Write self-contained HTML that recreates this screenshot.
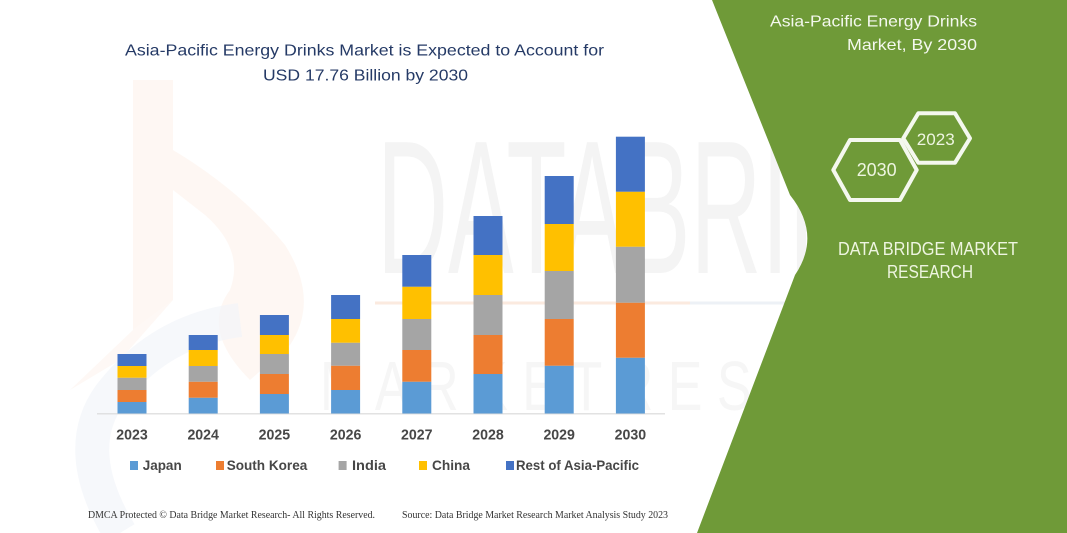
<!DOCTYPE html>
<html>
<head>
<meta charset="utf-8">
<style>
html,body{margin:0;padding:0;background:#fff;}
svg{display:block;}
</style>
</head>
<body>
<svg width="1067" height="533" viewBox="0 0 1067 533" xmlns="http://www.w3.org/2000/svg">
  <rect x="0" y="0" width="1067" height="533" fill="#ffffff"/>

  <!-- faint watermark logo -->
  <g opacity="0.45">
    <path d="M133,80 L173,80 L173,150 Q240,190 285,245 Q320,300 290,345 L250,380 Q200,330 230,290 Q245,250 205,215 L173,190 L173,300 L133,330 Z" fill="#fbe3d3" opacity="0.6"/>
    <path d="M133,330 L173,300 L120,360 L70,390 Z" fill="#fbe3d3" opacity="0.5"/>
    <path d="M120,533 Q70,450 110,395 Q160,330 240,320" fill="none" stroke="#dfe6f1" stroke-width="34" opacity="0.6"/>
  </g>
  <!-- faint DATABRIDGE watermark -->
  <text x="377" y="273" font-family="Liberation Sans, sans-serif" font-size="190" fill="#f4f4f4" textLength="625" lengthAdjust="spacingAndGlyphs">DATABRIDGE</text>
  <line x1="375" y1="303" x2="690" y2="303" stroke="#fbeadf" stroke-width="3"/>
  <line x1="690" y1="303" x2="800" y2="303" stroke="#edf1f6" stroke-width="3"/>
  <text x="320" y="410" font-family="Liberation Sans, sans-serif" font-size="70" fill="#f6f6f6" textLength="680" lengthAdjust="spacingAndGlyphs">M A R K E T  R E S E A R C H</text>

  <!-- green panel -->
  <path d="M712,0 L790,195 Q822,235 795,275 L697,533 L1067,533 L1067,0 Z" fill="#6f9a38"/>

  <!-- title -->
  <g font-family="Liberation Sans, sans-serif" font-size="16" fill="#253a66">
    <text x="125" y="55.7" textLength="479" lengthAdjust="spacingAndGlyphs">Asia-Pacific Energy Drinks Market is Expected to Account for</text>
    <text x="263" y="80.5" textLength="205" lengthAdjust="spacingAndGlyphs">USD 17.76 Billion by 2030</text>
  </g>

  <!-- axis line -->
  <line x1="97" y1="413.8" x2="665" y2="413.8" stroke="#d9d9d9" stroke-width="1.2"/>

  <!-- bars: Japan, South Korea, India, China, Rest -->
  <g>
    <!-- 2023 -->
    <rect x="117.5" y="402" width="29" height="11.5" fill="#5b9bd5"/>
    <rect x="117.5" y="390" width="29" height="12" fill="#ed7d31"/>
    <rect x="117.5" y="377.7" width="29" height="12.3" fill="#a5a5a5"/>
    <rect x="117.5" y="366" width="29" height="11.7" fill="#ffc000"/>
    <rect x="117.5" y="354" width="29" height="12" fill="#4472c4"/>
    <!-- 2024 -->
    <rect x="188.7" y="397.7" width="29" height="15.8" fill="#5b9bd5"/>
    <rect x="188.7" y="381.7" width="29" height="16" fill="#ed7d31"/>
    <rect x="188.7" y="366" width="29" height="15.7" fill="#a5a5a5"/>
    <rect x="188.7" y="350" width="29" height="16" fill="#ffc000"/>
    <rect x="188.7" y="335" width="29" height="15" fill="#4472c4"/>
    <!-- 2025 -->
    <rect x="259.9" y="394" width="29" height="19.5" fill="#5b9bd5"/>
    <rect x="259.9" y="374" width="29" height="20" fill="#ed7d31"/>
    <rect x="259.9" y="354" width="29" height="20" fill="#a5a5a5"/>
    <rect x="259.9" y="335" width="29" height="19" fill="#ffc000"/>
    <rect x="259.9" y="315" width="29" height="20" fill="#4472c4"/>
    <!-- 2026 -->
    <rect x="331.1" y="390" width="29" height="23.5" fill="#5b9bd5"/>
    <rect x="331.1" y="365.7" width="29" height="24.3" fill="#ed7d31"/>
    <rect x="331.1" y="342.7" width="29" height="23" fill="#a5a5a5"/>
    <rect x="331.1" y="319" width="29" height="23.7" fill="#ffc000"/>
    <rect x="331.1" y="295" width="29" height="24" fill="#4472c4"/>
    <!-- 2027 -->
    <rect x="402.3" y="381.7" width="29" height="31.8" fill="#5b9bd5"/>
    <rect x="402.3" y="350" width="29" height="31.7" fill="#ed7d31"/>
    <rect x="402.3" y="319" width="29" height="31" fill="#a5a5a5"/>
    <rect x="402.3" y="286.7" width="29" height="32.3" fill="#ffc000"/>
    <rect x="402.3" y="255" width="29" height="31.7" fill="#4472c4"/>
    <!-- 2028 -->
    <rect x="473.5" y="374" width="29" height="39.5" fill="#5b9bd5"/>
    <rect x="473.5" y="335" width="29" height="39" fill="#ed7d31"/>
    <rect x="473.5" y="295" width="29" height="40" fill="#a5a5a5"/>
    <rect x="473.5" y="255" width="29" height="40" fill="#ffc000"/>
    <rect x="473.5" y="216" width="29" height="39" fill="#4472c4"/>
    <!-- 2029 -->
    <rect x="544.7" y="365.7" width="29" height="47.8" fill="#5b9bd5"/>
    <rect x="544.7" y="319" width="29" height="46.7" fill="#ed7d31"/>
    <rect x="544.7" y="271" width="29" height="48" fill="#a5a5a5"/>
    <rect x="544.7" y="224" width="29" height="47" fill="#ffc000"/>
    <rect x="544.7" y="176" width="29" height="48" fill="#4472c4"/>
    <!-- 2030 -->
    <rect x="615.9" y="357.7" width="29" height="55.8" fill="#5b9bd5"/>
    <rect x="615.9" y="302.7" width="29" height="55" fill="#ed7d31"/>
    <rect x="615.9" y="246.7" width="29" height="56" fill="#a5a5a5"/>
    <rect x="615.9" y="191.7" width="29" height="55" fill="#ffc000"/>
    <rect x="615.9" y="136.7" width="29" height="55" fill="#4472c4"/>
  </g>

  <!-- year labels -->
  <g font-family="Liberation Sans, sans-serif" font-size="15" font-weight="bold" fill="#474747" text-anchor="middle">
    <text x="132" y="439.5" textLength="31.5" lengthAdjust="spacingAndGlyphs">2023</text>
    <text x="203.2" y="439.5" textLength="31.5" lengthAdjust="spacingAndGlyphs">2024</text>
    <text x="274.4" y="439.5" textLength="31.5" lengthAdjust="spacingAndGlyphs">2025</text>
    <text x="345.6" y="439.5" textLength="31.5" lengthAdjust="spacingAndGlyphs">2026</text>
    <text x="416.8" y="439.5" textLength="31.5" lengthAdjust="spacingAndGlyphs">2027</text>
    <text x="488" y="439.5" textLength="31.5" lengthAdjust="spacingAndGlyphs">2028</text>
    <text x="559.2" y="439.5" textLength="31.5" lengthAdjust="spacingAndGlyphs">2029</text>
    <text x="630.4" y="439.5" textLength="31.5" lengthAdjust="spacingAndGlyphs">2030</text>
  </g>

  <!-- legend -->
  <g font-family="Liberation Sans, sans-serif" font-size="14" font-weight="bold" fill="#474747">
    <rect x="130" y="461" width="8" height="9" fill="#5b9bd5"/>
    <text x="142.7" y="470" textLength="39" lengthAdjust="spacingAndGlyphs">Japan</text>
    <rect x="216" y="461" width="8" height="9" fill="#ed7d31"/>
    <text x="226.7" y="470" textLength="80.6" lengthAdjust="spacingAndGlyphs">South Korea</text>
    <rect x="338.6" y="461" width="8" height="9" fill="#a5a5a5"/>
    <text x="352" y="470" textLength="34" lengthAdjust="spacingAndGlyphs">India</text>
    <rect x="419" y="461" width="8" height="9" fill="#ffc000"/>
    <text x="432" y="470" textLength="38" lengthAdjust="spacingAndGlyphs">China</text>
    <rect x="506" y="461" width="8" height="9" fill="#4472c4"/>
    <text x="516" y="470" textLength="123" lengthAdjust="spacingAndGlyphs">Rest of Asia-Pacific</text>
  </g>

  <!-- footer -->
  <g font-family="Liberation Serif, serif" font-size="10.5" fill="#333333">
    <text x="88" y="518" textLength="287" lengthAdjust="spacingAndGlyphs">DMCA Protected © Data Bridge Market Research-  All Rights Reserved.</text>
    <text x="402" y="518" textLength="266" lengthAdjust="spacingAndGlyphs">Source: Data Bridge Market Research  Market Analysis Study 2023</text>
  </g>

  <!-- right panel text -->
  <g font-family="Liberation Sans, sans-serif" font-size="16" fill="#f4f8ee" text-anchor="end">
    <text x="977" y="26.7" textLength="207" lengthAdjust="spacingAndGlyphs">Asia-Pacific Energy Drinks</text>
    <text x="977" y="50" textLength="130" lengthAdjust="spacingAndGlyphs">Market, By 2030</text>
  </g>

  <!-- hexagons -->
  <g fill="none" stroke="#f4f8ee" stroke-width="4" stroke-linejoin="round">
    <polygon points="833.3,170 850,140 900,140 916.7,170 900,200 850,200"/>
    <polygon points="903.3,138.3 918.3,113.3 955,113.3 970,138.3 955,162.7 918.3,162.7"/>
  </g>
  <g font-family="Liberation Sans, sans-serif" fill="#eef5e0" text-anchor="middle">
    <text x="876.7" y="176" font-size="18" textLength="40" lengthAdjust="spacingAndGlyphs">2030</text>
    <text x="935.8" y="145" font-size="17" textLength="38" lengthAdjust="spacingAndGlyphs">2023</text>
  </g>

  <g font-family="Liberation Sans, sans-serif" font-size="18" fill="#eef5e0" text-anchor="middle">
    <text x="928" y="255" textLength="180" lengthAdjust="spacingAndGlyphs">DATA BRIDGE MARKET</text>
    <text x="930" y="278" textLength="86" lengthAdjust="spacingAndGlyphs">RESEARCH</text>
  </g>
</svg>
</body>
</html>
